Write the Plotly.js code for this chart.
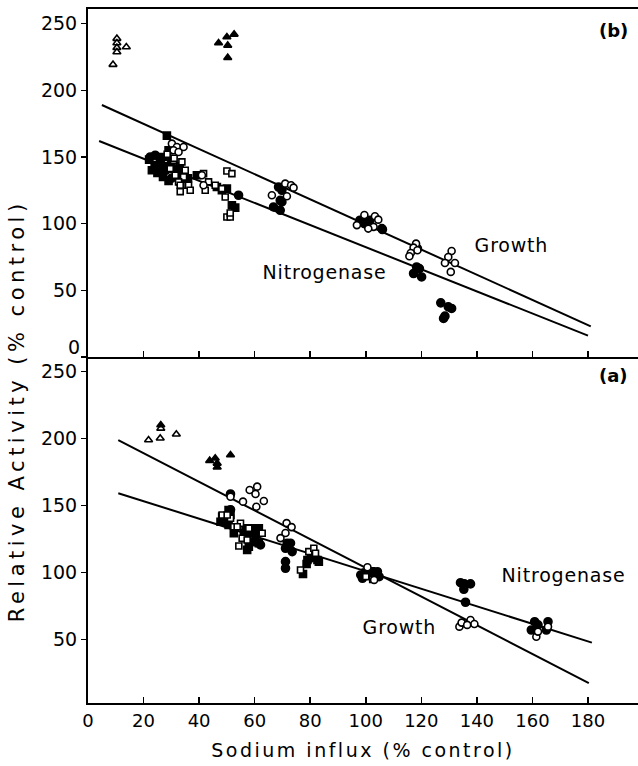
<!DOCTYPE html>
<html>
<head>
<meta charset="utf-8">
<script src="https://cdn.plot.ly/plotly-3.0.1.min.js"></script>
<style>html,body{margin:0;padding:0;background:#fff;}#chart{width:638px;height:766px;}</style>
</head>
<body>
<div id="chart"></div>
<script>
// x tick values
const xTicks = [0, 20, 40, 60, 80, 100, 120, 140, 160, 180];
const yTicksTop = [0, 50, 100, 150, 200, 250];
const yTicksBottom = [50, 100, 150, 200, 250];

// ---------- Panel (b) (top) ----------
const bOpenTriX = [10.4, 10.4, 10.4, 10.4, 13.8, 9.0];
const bOpenTriY = [238.8, 235.5, 232, 228.7, 232.5, 219.3];
const bFillTriX = [47.0, 50.0, 50.3, 52.6, 50.3];
const bFillTriY = [235.5, 240, 233.7, 242, 224.5];

const bOpenCircX = [30.2, 32.0, 34.4, 30.8, 32.6, 41.0, 41.6,
                    71.0, 73.1, 66.2, 71.6, 74.0,
                    96.8, 103.3, 102.8, 100.9, 99.5, 104.5,
                    118.1, 117.2, 118.6, 116.2, 115.7,
                    130.9, 129.7, 128.5, 132.1, 130.6];
const bOpenCircY = [160, 157.5, 157.5, 155, 153.7, 136.3, 128.8,
                    130, 128.8, 121.3, 120.5, 127,
                    98.9, 105.5, 97.6, 96.3, 106.5, 103,
                    85, 82, 80, 78, 75.6,
                    79.5, 75, 70.5, 70.5, 63.8];

const bFillCircX = [22.4, 24.2, 26, 28, 30, 33, 54.2,
                    68.6, 69.8, 69.2, 69.8, 66.8, 69.2,
                    101.5, 105.8, 97.9, 99.5, 106,
                    118.3, 117.2, 120.1, 119.3, 118.6,
                    127, 129.7, 130.9, 128.5, 128];
const bFillCircY = [150, 151.3, 146, 140, 134, 131, 121.3,
                    127.5, 125, 117.5, 116.3, 112.5, 110,
                    102.6, 96.3, 102.6, 100, 95.6,
                    67.5, 62.6, 60, 66.3, 81.3,
                    40.6, 37.6, 36.4, 30.6, 28.9];

const bOpenSqX = [30.8, 33.8, 29.6, 35, 31.4, 34.4, 32.6, 35.6, 33.2, 33.2, 36.2, 36.8,
                  41.6, 43.4, 42.2, 45.8, 48.2, 50, 51.8, 49.4, 50, 51.2, 51.2, 28.5, 31];
const bOpenSqY = [147.5, 146.3, 141.3, 140, 136.3, 135, 131.3, 128.8, 128.8, 124, 128.8, 125,
                  137.5, 131.3, 125, 128.8, 126.3, 139.5, 137.5, 120, 105, 105, 108, 152, 149];

const bFillSqX = [28.4, 22, 24, 26, 27, 28, 30, 31, 32, 25, 27, 29, 34, 36, 26, 29,
                  39.2, 46.4, 48.2, 50, 51.8, 53, 23, 33];
const bFillSqY = [166, 148, 144, 147, 150, 143, 146, 141, 137, 138, 135, 132, 139, 134, 141, 155,
                  136.3, 127.5, 125, 126.3, 113.8, 112, 140, 143];

const bGrowthX = [5, 181];
const bGrowthY = [189, 23];
const bNitroX = [4, 180];
const bNitroY = [162, 16];

// ---------- Panel (a) (bottom) ----------
const aOpenTriX = [21.8, 26, 31.8, 26.2];
const aOpenTriY = [199, 200.3, 203.3, 207.7];
const aFillTriX = [26.2, 43.8, 45.8, 46.5, 46.5, 51.3];
const aFillTriY = [210.2, 183.6, 185.4, 181.6, 178.7, 187.8];

const aOpenCircX = [58.2, 60.9, 60.3, 63.3, 60.6, 55.8, 51.3,
                    69.3, 71.1, 71.5, 73.3,
                    100.6, 103,
                    133.7, 135.5, 137.7, 139.1, 134.5, 136.5,
                    161.4, 165.6, 162];
const aOpenCircY = [161.7, 164.2, 158.7, 153.5, 149.2, 153, 156.7,
                    125.8, 129.6, 137, 134,
                    104, 94.6,
                    59.7, 62.2, 64.7, 61.7, 62.7, 61,
                    52.2, 59.7, 56];

const aFillCircX = [51.3, 51.3, 59.7, 62.1, 60.9, 57.9,
                    71.7, 71.1, 73.5, 72.9, 71.1, 71.1, 80.1,
                    98.2, 98.8, 101.8, 104.2, 104.8,
                    134.1, 135.5, 137.7, 135.3, 135.9,
                    160.8, 165.6, 159.6, 165, 162];
const aFillCircY = [158.7, 147, 123.1, 120.7, 131.9, 129.4,
                    122, 118.2, 115.7, 122, 108.2, 103.3, 110.8,
                    98.3, 95.8, 98.3, 100.7, 97,
                    92.5, 91.6, 91.6, 87.6, 77.9,
                    63.4, 63.4, 57.2, 57.2, 61];

const aOpenSqX = [48.3, 51.3, 52.5, 54.9, 54.3, 55.5, 62.7, 57.3, 57.9, 50.1, 53.7,
                  76.5, 79.5, 81.3, 81.9, 100, 102.5];
const aOpenSqY = [143, 140.6, 134.3, 136.9, 119.9, 125.7, 129.4, 124.4, 133.1, 143, 134.3,
                  102, 115.7, 118.2, 114.5, 97, 95];

const aFillSqX = [48.3, 50.6, 52.5, 56.7, 57.3, 59.7, 61.5, 50.6, 51.3, 48.3, 47.7, 49.5,
                  56.7, 59.1, 61.5, 60.3, 57.9, 56.1,
                  77.4, 79, 78.7, 82.6, 83.1, 100, 102];
const aFillSqY = [138, 135.6, 129.4, 125.7, 117, 131.9, 122, 146.8, 143, 141.8, 138, 139.3,
                  133.1, 133.1, 133.1, 125.7, 119.4, 129.4,
                  99, 109.5, 106.5, 109.5, 108.2, 100, 101];

const aGrowthX = [10.9, 180.3];
const aGrowthY = [199, 17.5];
const aNitroX = [10.9, 181.4];
const aNitroY = [159.3, 47.8];

// ---------- styles ----------
const FONT = 'DejaVu Sans, Arial, sans-serif';
function line(x, y, ya) {
  return {x: x, y: y, xaxis: ya === 'y2' ? 'x2' : 'x', yaxis: ya, mode: 'lines',
          line: {color: '#000', width: 2}, hoverinfo: 'skip', showlegend: false};
}
function pts(x, y, ya, symbol, filled, size) {
  return {x: x, y: y, xaxis: ya === 'y2' ? 'x2' : 'x', yaxis: ya, mode: 'markers', showlegend: false,
          marker: {symbol: symbol, size: size, color: filled ? '#000' : '#fff',
                   line: {color: '#000', width: 1.6}}};
}

const data = [
  line(bGrowthX, bGrowthY, 'y2'), line(bNitroX, bNitroY, 'y2'),
  line(aGrowthX, aGrowthY, 'y'), line(aNitroX, aNitroY, 'y'),
  pts(bFillSqX, bFillSqY, 'y2', 'square', true, 7),
  pts(bFillCircX, bFillCircY, 'y2', 'circle', true, 8),
  pts(bOpenSqX, bOpenSqY, 'y2', 'square', false, 6),
  pts(bOpenCircX, bOpenCircY, 'y2', 'circle', false, 7),
  pts(bOpenTriX, bOpenTriY, 'y2', 'triangle-up', false, 7),
  pts(bFillTriX, bFillTriY, 'y2', 'triangle-up', true, 7),
  pts(aFillSqX, aFillSqY, 'y', 'square', true, 7),
  pts(aFillCircX, aFillCircY, 'y', 'circle', true, 8),
  pts(aOpenSqX, aOpenSqY, 'y', 'square', false, 6),
  pts(aOpenCircX, aOpenCircY, 'y', 'circle', false, 7),
  pts(aOpenTriX, aOpenTriY, 'y', 'triangle-up', false, 7),
  pts(aFillTriX, aFillTriY, 'y', 'triangle-up', true, 7)
];

const split = 0.4986;
const lab = {size: 19};
const layout = {
  width: 638, height: 766,
  margin: {l: 88, r: 0, t: 9, b: 63},
  paper_bgcolor: '#fff', plot_bgcolor: '#fff',
  font: {family: FONT, color: '#000', size: 18},
  showlegend: false,
  xaxis: {
    anchor: 'y', domain: [0, 1], range: [0, 198],
    tickvals: xTicks, ticktext: xTicks.map(String),
    ticks: 'inside', ticklen: 6, tickwidth: 1.5, tickcolor: '#000',
    showline: true, linecolor: '#000', linewidth: 2, showgrid: false, zeroline: false,
    tickfont: {size: 18, family: FONT},
    title: {text: 'Sodium influx (% control)', font: {size: 19, family: FONT}, standoff: 14}
  },
  xaxis2: {
    anchor: 'y2', domain: [0, 1], range: [0, 198], matches: 'x',
    tickvals: xTicks, showticklabels: false,
    ticks: 'inside', ticklen: 6, tickwidth: 1.5, tickcolor: '#000',
    showline: true, linecolor: '#000', linewidth: 2, mirror: true, showgrid: false, zeroline: false
  },
  yaxis: {
    domain: [0, split], range: [2.7, 261],
    tickvals: yTicksBottom,
    ticks: 'outside', ticklen: 5, tickwidth: 1.5, tickcolor: '#000',
    showline: true, linecolor: '#000', linewidth: 2, showgrid: false, zeroline: false,
    tickfont: {size: 19, family: FONT}
  },
  yaxis2: {
    domain: [split, 1], range: [0, 261],
    tickvals: yTicksTop, ticktext: yTicksTop.map(v => v === 0 ? '' : String(v)),
    ticks: 'outside', ticklen: 5, tickwidth: 1.5, tickcolor: '#000',
    showline: true, linecolor: '#000', linewidth: 2, showgrid: false, zeroline: false,
    tickfont: {size: 19, family: FONT}
  },
  annotations: [
    {text: String(yTicksTop[0]), xref: 'paper', yref: 'y2', x: 0, y: 0, xanchor: 'right', yanchor: 'bottom',
     xshift: -6, yshift: -3, showarrow: false, font: {size: 19}},
    {text: '<b>(b)</b>', xref: 'x2', yref: 'y2', x: 189, y: 245, showarrow: false, font: {size: 18}},
    {text: '<b>(a)</b>', xref: 'x', yref: 'y', x: 189, y: 247, showarrow: false, font: {size: 18}},
    {text: 'Growth', xref: 'x2', yref: 'y2', x: 152.5, y: 84, showarrow: false, font: lab},
    {text: 'Nitrogenase', xref: 'x2', yref: 'y2', x: 85, y: 63.5, showarrow: false, font: lab},
    {text: 'Nitrogenase', xref: 'x', yref: 'y', x: 171, y: 98.3, showarrow: false, font: lab},
    {text: 'Growth', xref: 'x', yref: 'y', x: 112, y: 59.5, showarrow: false, font: lab},
    {text: 'Relative Activity (% control)', xref: 'paper', yref: 'paper',
     x: -0.13, y: 0.42, xanchor: 'center', yanchor: 'middle', textangle: -90,
     showarrow: false, font: {size: 21}}
  ]
};

Plotly.newPlot('chart', data, layout, {staticPlot: true, displayModeBar: false}).then(function (gd) {
  gd.querySelectorAll('.annotation-text').forEach(function (t) {
    const s = t.textContent;
    if (s.indexOf('Relative') === 0) t.style.letterSpacing = '4.5px';
    else if (s === 'Growth' || s === 'Nitrogenase') t.style.letterSpacing = '0.8px';
  });
  gd.querySelectorAll('.g-xtitle text').forEach(function (t) { t.style.letterSpacing = '2.5px'; });
});
</script>
</body>
</html>
